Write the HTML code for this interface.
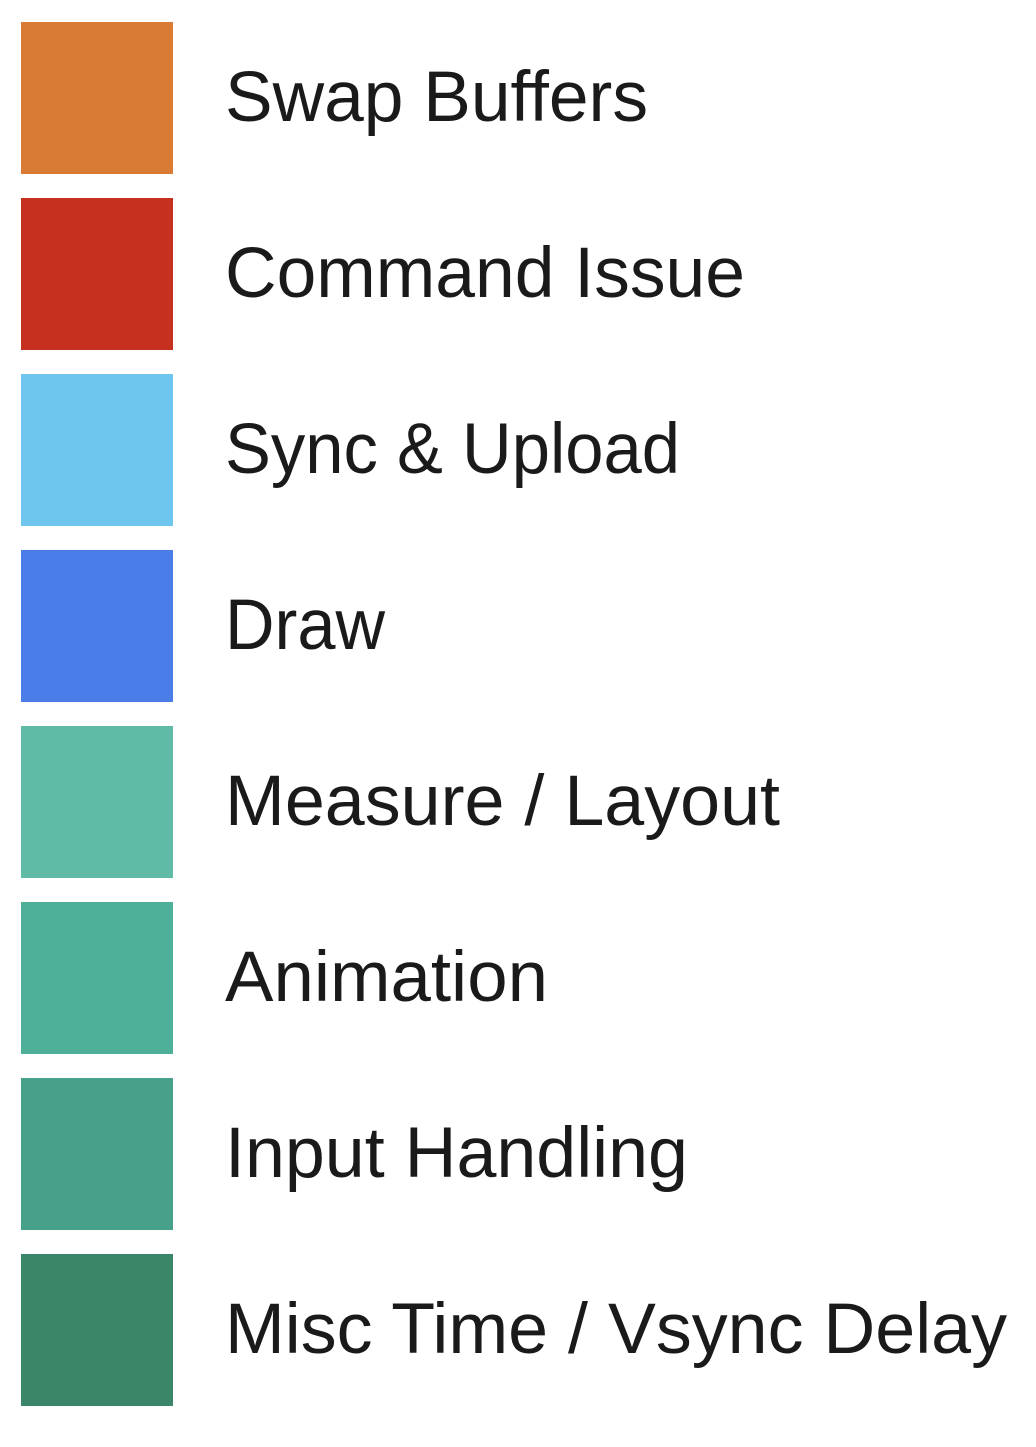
<!DOCTYPE html>
<html><head><style>html,body{margin:0;padding:0;background:#fff;}</style></head>
<body>
<svg width="1036" height="1442" xmlns="http://www.w3.org/2000/svg" font-family="Liberation Sans, sans-serif" font-size="71" fill="#1a1a1a">
<rect width="1036" height="1442" fill="#fff"/>
<rect x="21" y="22" width="152" height="152" fill="#D97A35"/>
<rect x="21" y="198" width="152" height="152" fill="#C5301F"/>
<rect x="21" y="374" width="152" height="152" fill="#6EC6EE"/>
<rect x="21" y="550" width="152" height="152" fill="#4A7DE8"/>
<rect x="21" y="726" width="152" height="152" fill="#5FBBA5"/>
<rect x="21" y="902" width="152" height="152" fill="#4FB09A"/>
<rect x="21" y="1078" width="152" height="152" fill="#47A08A"/>
<rect x="21" y="1254" width="152" height="152" fill="#3B8569"/>
<text x="225" y="121" textLength="423" lengthAdjust="spacingAndGlyphs">Swap Buffers</text>
<text x="225" y="297" textLength="520" lengthAdjust="spacingAndGlyphs">Command Issue</text>
<text x="225" y="473" textLength="455" lengthAdjust="spacingAndGlyphs">Sync &amp; Upload</text>
<text x="225" y="649" textLength="160" lengthAdjust="spacingAndGlyphs">Draw</text>
<text x="225" y="825" textLength="555" lengthAdjust="spacingAndGlyphs">Measure / Layout</text>
<text x="225" y="1001" textLength="323" lengthAdjust="spacingAndGlyphs">Animation</text>
<text x="225" y="1177" textLength="463" lengthAdjust="spacingAndGlyphs">Input Handling</text>
<text x="225" y="1353" textLength="782" lengthAdjust="spacingAndGlyphs">Misc Time / Vsync Delay</text>
</svg>
</body></html>
